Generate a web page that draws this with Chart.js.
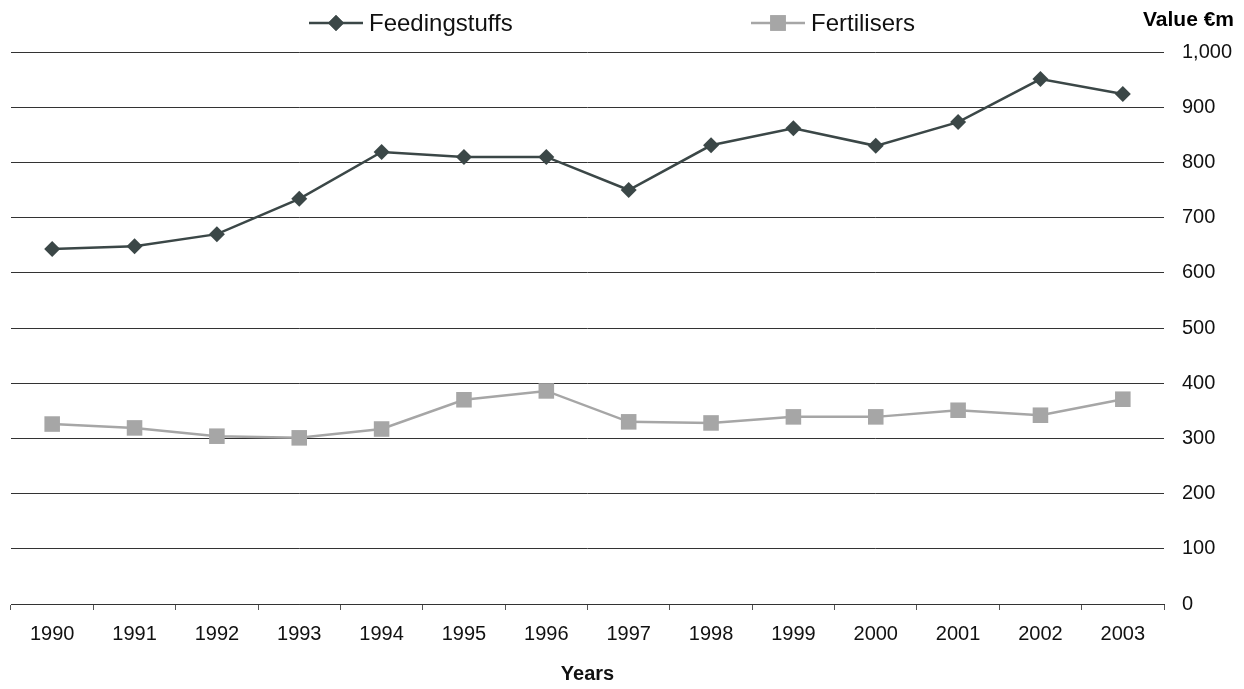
<!DOCTYPE html>
<html>
<head>
<meta charset="utf-8">
<script src="https://cdn.jsdelivr.net/npm/chart.js@4.4.1/dist/chart.umd.min.js"></script>
<style>
  html, body { margin: 0; padding: 0; background: #fff; }
  #wrap { width: 1244px; height: 689px; position: relative; }
</style>
</head>
<body>
<div id="wrap"><canvas id="chart"></canvas></div>
<script>
// values, € million
const years = ['1990', '1991', '1992', '1993', '1994', '1995', '1996', '1997', '1998', '1999', '2000', '2001', '2002', '2003']
const feedingstuffs = [643, 648, 670, 734, 819, 810, 810, 750, 831, 862, 830, 873, 951, 924]
const fertilisers = [326, 319, 304, 301, 317, 370, 386, 330, 328, 339, 339, 351, 342, 371]

const feedColor = '#3b4747'
const fertColor = '#a6a6a6'
const fontName = '"Liberation Sans", Arial, sans-serif'

// legend drawn as line + marker like the original
const topLegend = {
    id: 'topLegend',
    afterDraw(chart) {
        const ctx = chart.ctx
        const items = [
            { x: 309, ds: chart.data.datasets[0] },
            { x: 751, ds: chart.data.datasets[1] },
        ]
        const y = 23
        ctx.save()
        items.forEach(item => {
            ctx.strokeStyle = item.ds.borderColor
            ctx.lineWidth = 2.5
            ctx.beginPath()
            ctx.moveTo(item.x, y)
            ctx.lineTo(item.x + 54, y)
            ctx.stroke()

            ctx.fillStyle = item.ds.pointBackgroundColor
            Chart.helpers.drawPoint(ctx, {
                pointStyle: item.ds.pointStyle,
                radius: item.ds.pointRadius,
                borderWidth: 0,
            }, item.x + 27, y)
            ctx.fill()

            ctx.fillStyle = '#111'
            ctx.font = '24px ' + fontName
            ctx.textBaseline = 'middle'
            ctx.textAlign = 'left'
            ctx.fillText(item.ds.label, item.x + 60, y + 1)
        })
        // unit label over the value axis
        ctx.font = 'bold 21px ' + fontName
        ctx.textAlign = 'right'
        ctx.fillStyle = '#000'
        ctx.fillText('Value €m', 1234, 20)
        ctx.restore()
    }
}

new Chart(document.getElementById('chart'), {
    type: 'line',
    data: {
        labels: years,
        datasets: [{
            label: 'Feedingstuffs',
            data: feedingstuffs,
            borderColor: feedColor,
            backgroundColor: feedColor,
            pointBackgroundColor: feedColor,
            pointBorderWidth: 0,
            borderWidth: 2.5,
            pointStyle: 'rectRot',
            pointRadius: 8,
            pointHoverRadius: 8,
            tension: 0,
        }, {
            label: 'Fertilisers',
            data: fertilisers,
            borderColor: fertColor,
            backgroundColor: fertColor,
            pointBackgroundColor: fertColor,
            pointBorderWidth: 0,
            borderWidth: 2.5,
            pointStyle: 'rect',
            pointRadius: 11,
            pointHoverRadius: 11,
            tension: 0,
        }],
    },
    options: {
        responsive: true,
        maintainAspectRatio: false,
        animation: false,
        layout: { padding: { top: 52, left: 8, right: 0, bottom: 0 } },
        plugins: {
            legend: { display: false },
            tooltip: { enabled: false },
        },
        scales: {
            x: {
                offset: true,
                grid: {
                    offset: true,
                    drawOnChartArea: false,
                    tickLength: 6,
                    color: '#555',
                },
                border: { color: '#333', width: 1 },
                ticks: {
                    color: '#111',
                    font: { family: fontName, size: 20 },
                    padding: 12,
                    maxRotation: 0,
                },
                title: {
                    display: true,
                    text: 'Years',
                    color: '#111',
                    font: { family: fontName, size: 20, weight: 'bold' },
                    padding: { top: 0, bottom: 3 },
                },
                afterFit(scale) { scale.height = 85 },
            },
            y: {
                position: 'right',
                min: 0,
                max: 1000,
                grid: { color: '#333', lineWidth: 1, drawTicks: false },
                border: { display: false },
                ticks: {
                    stepSize: 100,
                    color: '#111',
                    padding: 18,
                    font: { family: fontName, size: 20 },
                    callback: v => v.toLocaleString('en-US'),
                },
                afterFit(scale) { scale.width = 80 },
            },
        },
    },
    plugins: [topLegend],
})
</script>
</body>
</html>
